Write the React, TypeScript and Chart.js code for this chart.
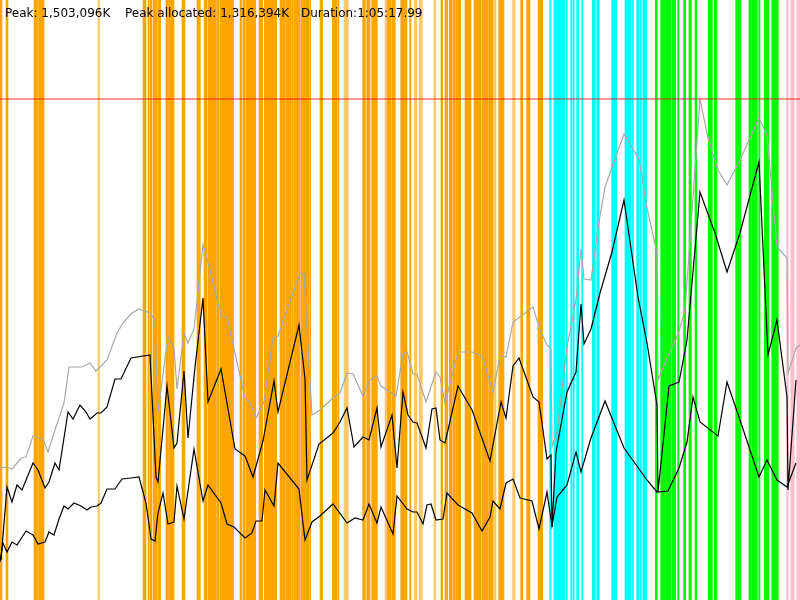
import React, { useEffect, useRef } from "react";
import { Chart, registerables } from "chart.js";

Chart.register(...registerables);

// Memory in MB (Peak 1,503,096K)
const PEAK = 1503.1;
const TITLE_PARTS = ["Peak: 1,503,096K", "Peak allocated: 1,316,394K", "Duration:1:05:17.99"];

// time positions (0..800) and memory values (MB)
const grayX = [0,7,12,21,26,33,43,48,53,59,64,69,82,90,96,107,117,123,132,139,150,155,158,168,174,177,184,188,194,203,207,221,227,245,250,256,264,273,278,300,304,312,320,333,340,347,353,363,370,377,381,396,403,407,413,417,426,436,440,445,458,472,482,493,500,506,513,533,540,547,551,552,557,567,576,581,584,591,598,605,624,639,647,657,658,667,678,685,700,708,718,727,740,759,767,777,787,788,796,800];
const grayY = [396,399,393,426,429,492,483,444,492,546,591,699,699,711,687,720,801,831,861,873,861,840,564,789,756,633,801,771,813,1065,1026,852,849,606,591,546,594,786,792,981,975,555,570,606,621,681,678,612,660,672,642,612,738,744,678,678,594,684,669,591,744,744,732,624,732,729,834,879,810,765,753,459,504,759,900,1053,963,960,1116,1239,1398,1323,1176,1041,660,726,795,870,1503,1386,1290,1245,1320,1446,1395,1059,1026,681,756,765];

const upperX = [1,7,12,17,22,33,38,45,49,55,59,68,73,80,86,90,97,101,107,115,121,131,150,156,158,167,174,177,184,188,195,203,208,221,235,245,253,263,274,278,299,305,307,319,333,340,347,354,363,369,377,381,392,397,403,408,413,417,426,432,436,440,445,458,472,490,501,506,513,519,533,539,547,551,552,556,567,576,581,584,591,600,612,624,638,647,657,658,669,679,687,700,715,727,740,759,768,777,787,788,796];
const upperY = [120,339,294,345,330,411,390,336,354,411,390,564,543,585,564,543,561,561,579,663,663,726,735,369,354,642,456,471,687,486,699,906,594,693,453,432,369,477,657,564,825,663,360,468,501,534,576,459,489,480,576,459,555,396,624,555,534,531,456,573,576,480,471,642,570,417,594,546,702,726,609,594,423,435,219,444,624,684,888,768,813,921,1044,1200,909,771,585,324,642,654,780,1224,1101,984,1101,1314,735,840,609,330,660];

const lowerX = [0,3,7,12,17,26,33,38,45,49,54,59,64,68,74,81,87,91,97,101,107,115,122,131,139,146,151,155,158,163,168,174,177,184,194,203,208,221,227,234,245,252,256,262,265,274,278,299,305,312,320,333,347,355,363,369,377,381,393,397,407,413,417,423,427,431,436,443,447,458,472,482,490,493,500,506,513,520,532,539,547,552,557,567,576,581,591,605,624,647,657,668,679,687,693,700,718,727,740,759,767,777,787,796];
const lowerY = [114,171,144,174,165,207,195,168,174,204,195,243,282,273,291,282,270,279,282,291,333,333,363,366,369,291,183,177,261,321,228,234,342,243,453,297,345,291,228,219,186,201,237,237,330,282,411,333,180,234,252,288,231,246,240,288,231,279,198,312,273,264,264,228,285,288,240,243,321,285,261,207,249,297,273,351,363,306,297,213,324,222,309,345,444,384,486,597,456,360,324,327,396,474,609,534,492,654,540,369,420,360,339,411];

// phase bands [start, end] on the time axis
const orangeBands = [[0,2],[6,8],[34,37.5],[38.5,44],[143,146],[148,148.7],[149.7,152],[153.3,157],[157.7,160.7],[166,168.3],[168.7,174],[182,185],[197,200.3],[204,207],[208,216],[216.7,219],[220,231.7],[232.3,233.7],[240,241.7],[243,245],[246,247.7],[248.3,255.7],[259,262.7],[264.3,276.7],[280,285],[285.7,291.3],[291.7,293.3],[294,300],[301,309.3],[310,310.7],[320,322.7],[332.3,336.7],[337.7,339],[362.7,365.3],[366.7,370],[371.7,377.3],[387.3,390.7],[391.7,395.3],[400.7,407],[409.7,411],[441,442.7],[445,447.7],[449.3,451.7],[452.7,455],[455.7,460.7],[465,471],[474,481],[482,488.3],[489,493.3],[498.7,504],[520.7,522.7],[526.7,530],[538,542.7]];
const lightOrangeBands = [[98,99.5],[344,348.3],[385,386.7],[414.3,416.7],[419.3,422.3],[434,435.7],[494,496],[512.7,515]];
const cyanBands = [[549.7,551],[554,564.7],[566,567.3],[570.7,572],[573,574.3],[576.7,578.7],[581.7,582.7],[592.3,595.3],[596.7,599.3],[611.7,616.7],[625,630.7],[631.7,633.3],[636.7,639],[640,641.3],[642.7,646.7]];
const greenBands = [[655.3,657.3],[660.7,671.3],[672.3,675.7],[677.7,679],[683.7,685.7],[689,691.3],[695,696.7],[708.3,712.3],[714.3,717],[735.7,741],[749,751.3],[752,757.3],[758.7,760],[764.3,769],[771.7,776.7],[777.3,778.3]];
const pinkBands = [[786.7,788.3],[790.7,794.3],[796.7,800]];

const bandGroups: [number[][], string][] = [
  [orangeBands, "#ffa500"],
  [lightOrangeBands, "#ffc866"],
  [cyanBands, "#00ffff"],
  [greenBands, "#00ff00"],
  [pinkBands, "#ffc0cb"],
];

const toPts = (xs: number[], ys: number[]) => xs.map((x, i) => ({ x, y: ys[i] }));

const bandsPlugin = {
  id: "bands",
  beforeDatasetsDraw(chart: any) {
    const { ctx, chartArea, scales } = chart;
    ctx.save();
    for (const [bands, color] of bandGroups) {
      ctx.fillStyle = color;
      for (const [s, e] of bands) {
        const x0 = scales.x.getPixelForValue(s) - 0.35;
        const x1 = scales.x.getPixelForValue(e) + 0.35;
        ctx.fillRect(x0, chartArea.top, Math.max(1, x1 - x0), chartArea.bottom - chartArea.top);
      }
    }
    ctx.restore();
  },
  afterDraw(chart: any) {
    const { ctx } = chart;
    ctx.save();
    ctx.fillStyle = "#000";
    ctx.font = '12px "DejaVu Sans"';
    ctx.textBaseline = "alphabetic";
    const xs = [5, 125, 301];
    TITLE_PARTS.forEach((t, i) => ctx.fillText(t, xs[i], 17));
    ctx.restore();
  },
};

export default function App() {
  const ref = useRef<HTMLCanvasElement>(null);
  useEffect(() => {
    if (!ref.current) return;
    const chart = new Chart(ref.current, {
      type: "scatter",
      data: {
        datasets: [
          {
            data: [{ x: 0, y: PEAK }, { x: 800, y: PEAK }],
            showLine: true,
            borderColor: "rgba(255,0,0,0.55)",
            borderWidth: 1.5,
            pointRadius: 0,
          },
          {
            data: toPts(grayX, grayY),
            showLine: true,
            borderColor: "#a8a8a8",
            borderWidth: 1.2,
            pointRadius: 0,
          },
          {
            data: toPts(upperX, upperY),
            showLine: true,
            borderColor: "#000000",
            borderWidth: 1.2,
            pointRadius: 0,
          },
          {
            data: toPts(lowerX, lowerY),
            showLine: true,
            borderColor: "#000000",
            borderWidth: 1.2,
            pointRadius: 0,
          },
        ],
      },
      options: {
        animation: false,
        responsive: false,
        devicePixelRatio: 1,
        layout: { padding: 0 },
        elements: { line: { tension: 0 } },
        scales: {
          x: { type: "linear", min: 0, max: 800, display: false },
          y: { type: "linear", min: 0, max: 1800, display: false },
        },
        plugins: { legend: { display: false }, tooltip: { enabled: false } },
      },
      plugins: [bandsPlugin],
    });
    return () => chart.destroy();
  }, []);
  return (
    <div style={{ position: "fixed", left: 0, top: 0, width: 800, height: 600, background: "#fff" }}>
      <canvas ref={ref} width={800} height={600} />
    </div>
  );
}
